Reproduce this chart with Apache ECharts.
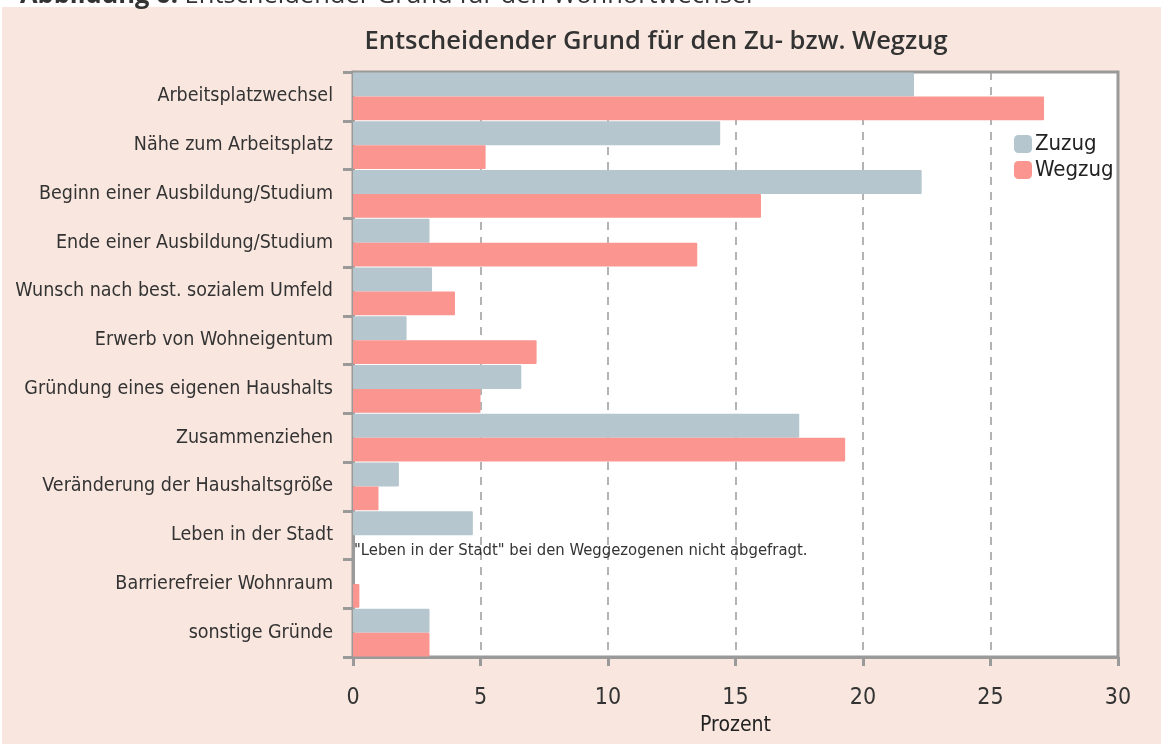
<!DOCTYPE html>
<html>
<head>
<meta charset="utf-8">
<script src="https://cdn.jsdelivr.net/npm/echarts@6/dist/echarts.min.js"></script>
<style>
  html, body { margin: 0; padding: 0; background: #fff; }
  #chart { width: 1161px; height: 744px; }
</style>
</head>
<body>
<div id="chart"></div>
<script>
// Gründe für Zu- und Wegzug (Prozent)
var kategorien = [
    'Arbeitsplatzwechsel',
    'Nähe zum Arbeitsplatz',
    'Beginn einer Ausbildung/Studium',
    'Ende einer Ausbildung/Studium',
    'Wunsch nach best. sozialem Umfeld',
    'Erwerb von Wohneigentum',
    'Gründung eines eigenen Haushalts',
    'Zusammenziehen',
    'Veränderung der Haushaltsgröße',
    'Leben in der Stadt',
    'Barrierefreier Wohnraum',
    'sonstige Gründe'
];
var zuzug = [22.0, 14.4, 22.3, 3.0, 3.1, 2.1, 6.6, 17.5, 1.8, 4.7, 0, 3.0];
// "Leben in der Stadt" wurde bei den Weggezogenen nicht abgefragt
var wegzug = [27.1, 5.2, 16.0, 13.5, 4.0, 7.2, 5.0, 19.3, 1.0, 0, 0.25, 3.0];
var xTicks = [0, 5, 10, 15, 20, 25, 30];
var hinweis = '"Leben in der Stadt" bei den Weggezogenen nicht abgefragt.';

var fontNarrow = "'Liberation Sans Narrow', 'DejaVu Sans Condensed', sans-serif";
var achsenGrau = '#9a9a9a';

var chart = echarts.init(document.getElementById('chart'));

var wegzugDaten = wegzug.map(function (v, i) {
    if (kategorien[i] === 'Leben in der Stadt') {
        return {
            value: v,
            label: {
                show: true,
                position: 'right',
                distance: 1,
                offset: [0, 4],
                formatter: hinweis,
                fontFamily: fontNarrow,
                fontSize: 16.5,
                color: '#333'
            }
        };
    }
    return v;
});

var option = {
    backgroundColor: '#fff',
    animation: false,
    graphic: [
        {
            type: 'rect',
            left: 2,
            top: 7,
            z: -10,
            shape: { width: 1159, height: 737 },
            style: { fill: '#f9e7df' }
        },
        {
            type: 'text',
            left: 20,
            top: -17,
            z: 10,
            style: {
                text: '{b|Abbildung 6:} Entscheidender Grund für den Wohnortwechsel',
                fontFamily: "'Open Sans', sans-serif",
                fontSize: 25.5,
                fill: '#333',
                rich: {
                    b: { fontWeight: 'bold', fontSize: 25.5, fontFamily: "'Open Sans', sans-serif" }
                }
            }
        }
    ],
    title: {
        text: 'Entscheidender Grund für den Zu- bzw. Wegzug',
        left: 651,
        textAlign: 'center',
        top: 24,
        textStyle: {
            fontFamily: "'Open Sans', sans-serif",
            fontWeight: 600,
            fontSize: 25.5,
            color: '#333'
        }
    },
    legend: {
        data: ['Zuzug', 'Wegzug'],
        orient: 'vertical',
        left: 1009,
        top: 128,
        itemWidth: 18,
        itemHeight: 18,
        itemGap: 4,
        icon: 'roundRect',
        textStyle: {
            fontFamily: fontNarrow,
            fontSize: 22,
            lineHeight: 20,
            color: '#222',
            padding: [0, 0, 0, -2]
        }
    },
    grid: {
        left: 353,
        right: 43,
        top: 72,
        bottom: 87,
        containLabel: false,
        outerBoundsMode: 'none',
        show: true,
        backgroundColor: '#fff',
        borderColor: achsenGrau,
        borderWidth: 3
    },
    xAxis: {
        type: 'value',
        min: 0,
        max: 30,
        interval: 5,
        name: 'Prozent',
        nameLocation: 'middle',
        nameGap: 54,
        nameTextStyle: {
            fontFamily: fontNarrow,
            fontSize: 21,
            color: '#222'
        },
        axisLine: { show: true, lineStyle: { color: achsenGrau, width: 3 } },
        axisTick: { show: true, length: 9, lineStyle: { color: achsenGrau, width: 3 } },
        axisLabel: {
            margin: 30,
            fontFamily: fontNarrow,
            fontSize: 23,
            color: '#333',
            formatter: function (v) { return xTicks.indexOf(v) >= 0 ? String(v) : ''; }
        },
        splitLine: {
            show: true,
            lineStyle: { color: achsenGrau, type: [8, 7], width: 1.5 }
        }
    },
    yAxis: {
        type: 'category',
        data: kategorien,
        inverse: true,
        axisLine: { show: true, lineStyle: { color: achsenGrau, width: 3 } },
        axisTick: { show: true, length: 10, lineStyle: { color: achsenGrau, width: 3 } },
        axisLabel: {
            margin: 20,
            fontFamily: fontNarrow,
            fontSize: 19.5,
            color: '#333'
        }
    },
    series: [
        {
            name: 'Zuzug',
            type: 'bar',
            data: zuzug,
            barGap: '0%',
            barCategoryGap: '2%',
            itemStyle: { color: '#b5c6ce', borderRadius: 1 }
        },
        {
            name: 'Wegzug',
            type: 'bar',
            data: wegzugDaten,
            barGap: '0%',
            barCategoryGap: '2%',
            itemStyle: { color: '#fa958f', borderRadius: 1 }
        }
    ]
};

chart.setOption(option);
</script>
</body>
</html>
